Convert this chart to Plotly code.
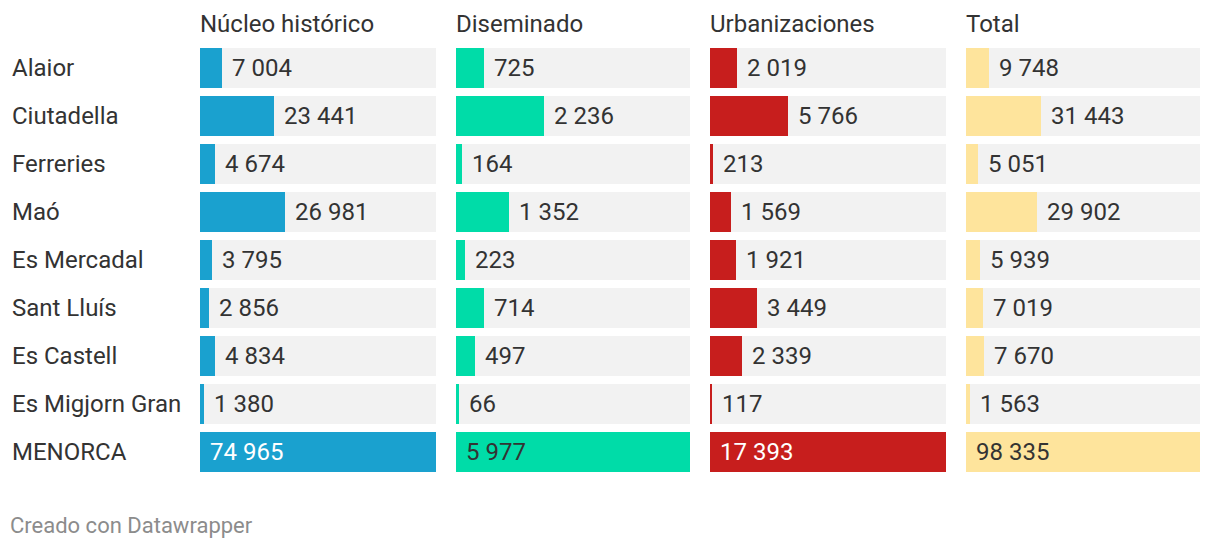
import plotly.graph_objects as go

municipios = ["Alaior", "Ciutadella", "Ferreries", "Maó", "Es Mercadal",
              "Sant Lluís", "Es Castell", "Es Migjorn Gran", "MENORCA"]
columnas = ["Núcleo histórico", "Diseminado", "Urbanizaciones", "Total"]
nucleo = [7004, 23441, 4674, 26981, 3795, 2856, 4834, 1380, 74965]
diseminado = [725, 2236, 164, 1352, 223, 714, 497, 66, 5977]
urbanizaciones = [2019, 5766, 213, 1569, 1921, 3449, 2339, 117, 17393]
total = [9748, 31443, 5051, 29902, 5939, 7019, 7670, 1563, 98335]
series = [nucleo, diseminado, urbanizaciones, total]
colores = ["#1aa1cf", "#00dca8", "#c71e1d", "#fee49c"]
inside_text = ["#ffffff", "#333333", "#ffffff", "#333333"]

OFF = 8  # page body margin
W, H = 1220 - OFF, 548 - OFF
panel_left = [200 - OFF, 456 - OFF, 710 - OFF, 966 - OFF]
panel_w = [236, 234, 236, 234]
row_top, row_h = 44 - OFF, 48
FONT = "Roboto"
TXT = "#333333"

def fmt(v):
    return f"{v:,}".replace(",", " ")

fig = go.Figure()
ytop = 1 - row_top / H
ybot = 1 - (row_top + row_h * len(municipios)) / H

annotations = []
for k, (vals, col) in enumerate(zip(series, colores)):
    ax = "x" if k == 0 else f"x{k+1}"
    vmax = max(vals)
    fig.add_trace(go.Bar(x=[vmax] * len(vals), y=municipios, orientation="h",
                         marker=dict(color="#f2f2f2", line=dict(width=0)),
                         width=40 / 48, xaxis=ax, yaxis="y", hoverinfo="skip",
                         showlegend=False))
    fig.add_trace(go.Bar(x=vals, y=municipios, orientation="h",
                         marker=dict(color=col, line=dict(width=0)),
                         width=40 / 48, xaxis=ax, yaxis="y", showlegend=False))
    for m, v in zip(municipios, vals):
        inside = v / vmax > 0.75
        annotations.append(dict(
            x=0 if inside else v, y=m, xref=ax, yref="y", text=fmt(v),
            showarrow=False, xanchor="left", yanchor="middle", xshift=8,
            font=dict(family=FONT, size=24,
                      color=inside_text[k] if inside else TXT)))
    dom = [panel_left[k] / W, (panel_left[k] + panel_w[k]) / W]
    axis = dict(domain=dom, range=[0, vmax], visible=False, fixedrange=True,
                anchor="y")
    fig.layout[("xaxis" if k == 0 else f"xaxis{k+1}")] = axis
    annotations.append(dict(x=dom[0], y=1 - (24 - OFF) / H, xref="paper", yref="paper",
                            text=columnas[k], showarrow=False, xanchor="left",
                            yanchor="middle", xshift=-2,
                            font=dict(family=FONT, size=24, color=TXT)))

for i, m in enumerate(municipios):
    annotations.append(dict(x=(12 - OFF) / W, y=m, xref="paper", yref="y", text=m,
                            showarrow=False, xanchor="left", yanchor="middle",
                            xshift=-2,
                            font=dict(family=FONT, size=24, color=TXT)))

annotations.append(dict(x=(10 - OFF) / W, y=1 - (525 - OFF) / H, xref="paper",
                        yref="paper", xshift=-2,
                        text="Creado con Datawrapper", showarrow=False,
                        xanchor="left", yanchor="middle",
                        font=dict(family=FONT, size=22, color="#8c8c8c")))

fig.update_layout(
    width=W, height=H, margin=dict(l=0, r=0, t=0, b=0),
    paper_bgcolor="white", plot_bgcolor="white", barmode="overlay",
    yaxis=dict(domain=[ybot, ytop], categoryorder="array",
               categoryarray=municipios, range=[len(municipios) - 0.5, -0.5],
               visible=False, fixedrange=True),
    annotations=annotations, bargap=0,
)

fig.write_html("out.html", config={"displayModeBar": False})
